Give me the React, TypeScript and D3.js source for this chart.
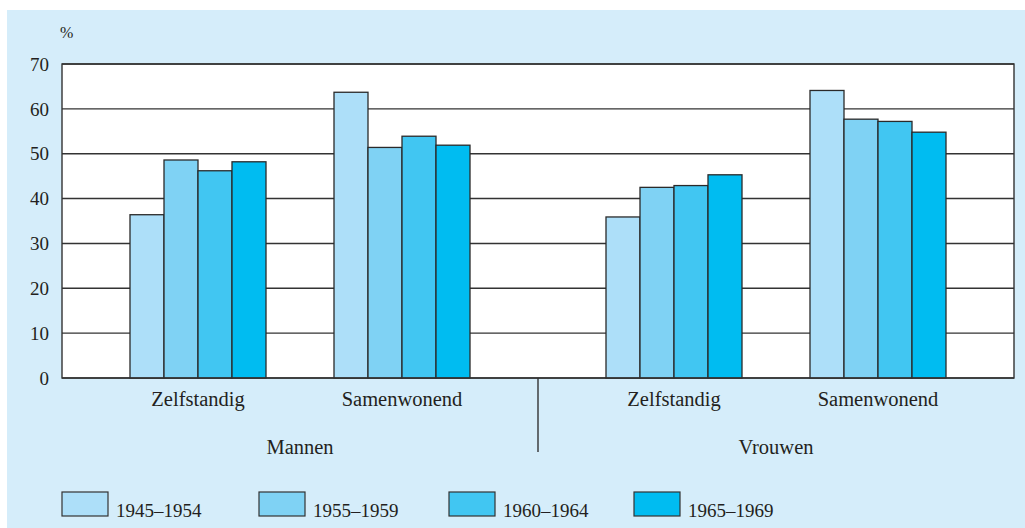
import React from "react";
import * as d3 from "d3";

const genders = ["Mannen", "Vrouwen"];
const livingTypes = ["Zelfstandig", "Samenwonend"];
const cohorts = ["1945–1954", "1955–1959", "1960–1964", "1965–1969"];
const colors = ["#addff9", "#7fd2f4", "#41c6f2", "#00bcf1"];
const mannenZelfstandig = [36.4, 48.6, 46.2, 48.2];
const mannenSamenwonend = [63.7, 51.4, 53.9, 51.9];
const vrouwenZelfstandig = [35.9, 42.5, 42.9, 45.3];
const vrouwenSamenwonend = [64.1, 57.7, 57.2, 54.8];
const yTicks = [0, 10, 20, 30, 40, 50, 60, 70];

const values: Record<string, Record<string, number[]>> = {
  Mannen: { Zelfstandig: mannenZelfstandig, Samenwonend: mannenSamenwonend },
  Vrouwen: { Zelfstandig: vrouwenZelfstandig, Samenwonend: vrouwenSamenwonend },
};

const FONT = "'Liberation Serif', 'Times New Roman', serif";

export default function App() {
  const W = 1025, H = 528;
  const left = 62, right = 1014, top = 64, bottom = 378;
  const y = d3.scaleLinear().domain([0, 70]).range([bottom, top]);
  const x0 = d3.scaleBand<string>().domain(genders).range([left, right]).padding(0);
  const x1 = d3.scaleBand<string>().domain(livingTypes).range([0, x0.bandwidth()]).paddingInner(1 / 3).paddingOuter(1 / 3);
  const x2 = d3.scaleBand<string>().domain(cohorts).range([0, x1.bandwidth()]).padding(0);
  const sepX = x0("Vrouwen")!;
  const legendX = [62, 259, 449, 634];

  return (
    <svg width={W} height={H} style={{ position: "absolute", left: 0, top: 0 }} fontFamily={FONT}>
      <rect x={7} y={10} width={W - 7} height={H - 10} fill="#d5edfa" />
      <rect x={left} y={top} width={right - left} height={bottom - top} fill="#ffffff" />
      {yTicks.map((t) => (
        <g key={t}>
          <line x1={left} x2={right} y1={y(t)} y2={y(t)} stroke="#333" strokeWidth={1.4} />
          <text x={49} y={y(t)} dy="0.35em" textAnchor="end" fontSize={19} fill="#231f20">{t}</text>
        </g>
      ))}
      <text x={60} y={38} fontSize={16} fill="#231f20">%</text>
      {genders.map((g) =>
        livingTypes.map((lt) =>
          cohorts.map((c, i) => {
            const v = values[g][lt][i];
            const bx = x0(g)! + x1(lt)! + x2(c)!;
            return (
              <rect key={g + lt + c} x={bx} y={y(v)} width={x2.bandwidth()} height={y(0) - y(v)}
                fill={colors[i]} stroke="#2a2a2a" strokeWidth={1.3} />
            );
          })
        )
      )}
      <rect x={left} y={top} width={right - left} height={bottom - top} fill="none" stroke="#333" strokeWidth={1.4} />
      <line x1={sepX} x2={sepX} y1={bottom} y2={452} stroke="#333" strokeWidth={1.4} />
      {genders.map((g) =>
        livingTypes.map((lt) => (
          <text key={g + lt} x={x0(g)! + x1(lt)! + x1.bandwidth() / 2} y={406} textAnchor="middle" fontSize={20.5} fill="#231f20">{lt}</text>
        ))
      )}
      {genders.map((g) => (
        <text key={g} x={x0(g)! + (x1("Zelfstandig")! + x1("Samenwonend")! + x1.bandwidth()) / 2} y={454} textAnchor="middle" fontSize={20.5} fill="#231f20">{g}</text>
      ))}
      {cohorts.map((c, i) => (
        <g key={c}>
          <rect x={legendX[i]} y={492} width={46} height={24} fill={colors[i]} stroke="#333" strokeWidth={1.2} />
          <text x={legendX[i] + 54} y={517} fontSize={19} fill="#231f20">{c}</text>
        </g>
      ))}
    </svg>
  );
}
